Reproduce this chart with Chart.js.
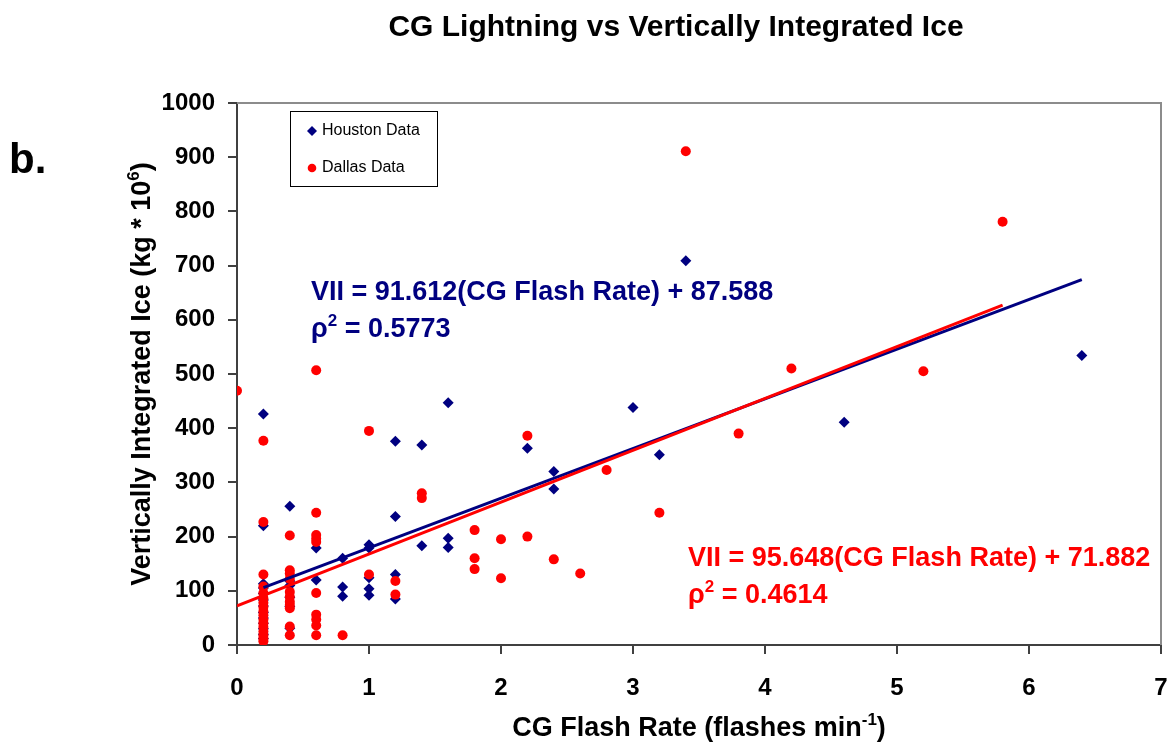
<!DOCTYPE html>
<html><head><meta charset="utf-8">
<script src="https://cdn.jsdelivr.net/npm/chart.js@4.4.1/dist/chart.umd.min.js"></script>
<style>html,body{margin:0;padding:0;background:#fff}#wrap{width:1170px;height:744px;position:relative}</style>
</head><body><div id="wrap"><canvas id="c" width="1170" height="744"></canvas></div>
<script>
// ---- data ----
const houstonX = [0.2,0.2,0.2,0.2,0.2,0.2,0.2,0.2,0.2,0.2,0.2,0.2,0.2,
  0.4,0.4,0.4,0.4,0.4,0.4, 0.6,0.6, 0.8,0.8,0.8, 1.0,1.0,1.0,1.0,1.0,
  1.2,1.2,1.2,1.2, 1.4,1.4, 1.6,1.6,1.6, 2.2, 2.4,2.4, 3.0, 3.2, 3.4, 4.6, 6.4];
const houstonY = [426,220,113,105,95,83,72,60,50,40,30,20,12,
  256,118,110,88,71,31, 179,120, 160,107,90, 185,179,124,104,92,
  376,237,130,85, 369,183, 447,197,180, 363, 320,288, 438, 351, 709, 411, 534];
const dallasX = [0.0,
  0.2,0.2,0.2,0.2,0.2,0.2,0.2,0.2,0.2,0.2,0.2,0.2,0.2,0.2,0.2,0.2,0.2,
  0.4,0.4,0.4,0.4,0.4,0.4,0.4,0.4,0.4,0.4,0.4,
  0.6,0.6,0.6,0.6,0.6,0.6,0.6,0.6,0.6,0.6,
  0.8, 1.0,1.0, 1.2,1.2, 1.4,1.4, 1.8,1.8,1.8, 2.0,2.0, 2.2,2.2, 2.4, 2.6, 2.8,
  3.2, 3.4, 3.8, 4.2, 5.2, 5.8];
const dallasY = [469,
  377,227,130,108,96,86,78,70,62,55,47,40,33,25,18,12,7,
  202,138,132,122,98,89,80,74,68,34,18,
  507,244,203,196,190,96,56,47,36,18,
  18, 395,130, 118,93, 280,271, 212,160,140, 195,123, 386,200, 158, 132, 323,
  244, 911, 390, 510, 505, 781];
const houstonTrendX = [0.2, 6.4];
const houstonTrendY = [106, 674];
const dallasTrendX = [0.0, 5.8];
const dallasTrendY = [72, 627];
const xTicks = [0,1,2,3,4,5,6,7];
const yTicks = [0,100,200,300,400,500,600,700,800,900,1000];
const titleText = 'CG Lightning vs Vertically Integrated Ice';
const seriesNames = ['Houston Data','Dallas Data'];
const houstonEq = ['VII = 91.612(CG Flash Rate) + 87.588', '0.5773'];
const dallasEq = ['VII = 95.648(CG Flash Rate) + 71.882', '0.4614'];

const NAVY = '#000080', RED = '#FF0000';
const FF = '"Liberation Sans", Arial, Helvetica, sans-serif';
const pts = (xs, ys) => xs.map((x, i) => ({x, y: ys[i]}));

function supText(ctx, parts, x, y, size, align) {
  const widths = parts.map(p => { ctx.font = 'bold ' + (p[1] ? Math.round(size*0.62) : size) + 'px ' + FF; return ctx.measureText(p[0]).width; });
  const total = widths.reduce((a,b)=>a+b,0);
  let cx = align === 'center' ? x - total/2 : x;
  parts.forEach((p, i) => {
    ctx.font = 'bold ' + (p[1] ? Math.round(size*0.62) : size) + 'px ' + FF;
    ctx.fillText(p[0], cx, p[1] ? y - size*0.42 : y);
    cx += widths[i];
  });
}

const decor = {
  id: 'decor',
  beforeDraw(chart) {
    const {ctx} = chart;
    ctx.save(); ctx.fillStyle = '#fff'; ctx.fillRect(0,0,chart.width,chart.height); ctx.restore();
  },
  afterDatasetsDraw(chart) {
    const {ctx, chartArea: a} = chart;
    ctx.save();
    ctx.strokeStyle = '#8c8c8c'; ctx.lineWidth = 2;
    ctx.beginPath(); ctx.moveTo(a.left, a.top); ctx.lineTo(a.right, a.top); ctx.lineTo(a.right, a.bottom); ctx.stroke();
    ctx.restore();
  },
  afterDraw(chart) {
    const {ctx, chartArea: a} = chart;
    ctx.save();
    ctx.textBaseline = 'alphabetic';
    ctx.fillStyle = '#000';
    // title
    ctx.font = 'bold 30px ' + FF; ctx.textAlign = 'center';
    ctx.fillText(titleText, 676, 36);
    // panel letter
    ctx.font = 'bold 42px ' + FF; ctx.textAlign = 'left';
    ctx.fillText('b.', 9, 173);
    // x axis title
    supText(ctx, [['CG Flash Rate (flashes min', false], ['-1', true], [')', false]], (a.left + a.right)/2, 736, 27, 'center');
    // y axis title
    ctx.save();
    ctx.translate(150, (a.top + a.bottom)/2);
    ctx.rotate(-Math.PI/2);
    supText(ctx, [['Vertically Integrated Ice (kg * 10', false], ['6', true], [')', false]], 0, 0, 27, 'center');
    ctx.restore();
    // equations
    ctx.fillStyle = NAVY;
    ctx.font = 'bold 27px ' + FF;
    ctx.fillText(houstonEq[0], 311, 300);
    supText(ctx, [['\u03C1', false], ['2', true], [' = ' + houstonEq[1], false]], 311, 337, 27, 'left');
    ctx.fillStyle = RED;
    ctx.font = 'bold 27px ' + FF;
    ctx.fillText(dallasEq[0], 688, 566);
    supText(ctx, [['\u03C1', false], ['2', true], [' = ' + dallasEq[1], false]], 688, 603, 27, 'left');
    // legend
    ctx.fillStyle = '#fff'; ctx.fillRect(290.5, 111.5, 147, 75);
    ctx.strokeStyle = '#000'; ctx.lineWidth = 1; ctx.strokeRect(290.5, 111.5, 147, 75);
    ctx.fillStyle = NAVY;
    ctx.beginPath(); ctx.moveTo(312, 126); ctx.lineTo(317, 131); ctx.lineTo(312, 136); ctx.lineTo(307, 131); ctx.closePath(); ctx.fill();
    ctx.fillStyle = RED;
    ctx.beginPath(); ctx.arc(312, 168, 4.3, 0, Math.PI*2); ctx.fill();
    ctx.fillStyle = '#000'; ctx.font = '16px ' + FF; ctx.textBaseline = 'middle';
    ctx.fillText(seriesNames[0], 322, 131);
    ctx.fillText(seriesNames[1], 322, 168);
    ctx.restore();
  }
};

new Chart(document.getElementById('c'), {
  type: 'scatter',
  data: {
    datasets: [
      {label: 'Dallas trend', data: pts(dallasTrendX, dallasTrendY), showLine: true, borderColor: RED, borderWidth: 3, pointRadius: 0, order: 0},
      {label: 'Houston trend', data: pts(houstonTrendX, houstonTrendY), showLine: true, borderColor: NAVY, borderWidth: 3, pointRadius: 0, order: 1},
      {label: seriesNames[1], data: pts(dallasX, dallasY), pointStyle: 'circle', pointRadius: 5, backgroundColor: RED, borderColor: RED, borderWidth: 0, order: 2},
      {label: seriesNames[0], data: pts(houstonX, houstonY), pointStyle: 'rectRot', pointRadius: 5.5, backgroundColor: NAVY, borderColor: NAVY, borderWidth: 0, order: 3}
    ]
  },
  options: {
    responsive: false, animation: false, devicePixelRatio: 1,
    layout: {padding: {left: 0, top: 103, right: 9, bottom: 0}},
    plugins: {legend: {display: false}, tooltip: {enabled: false}, title: {display: false}},
    scales: {
      x: {
        type: 'linear', min: 0, max: 7,
        afterFit: s => { s.height = 99; s.paddingLeft = 0; s.paddingRight = 0; },
        afterBuildTicks: s => { s.ticks = xTicks.map(v => ({value: v})); },
        ticks: {font: {family: FF, size: 24, weight: 'bold'}, color: '#000', padding: 20, callback: v => String(v)},
        grid: {drawOnChartArea: false, drawTicks: true, tickLength: 9, color: '#404040', lineWidth: 2},
        border: {color: '#404040', width: 2}
      },
      y: {
        type: 'linear', min: 0, max: 1000,
        afterFit: s => { s.width = 237; s.paddingTop = 0; s.paddingBottom = 0; },
        afterBuildTicks: s => { s.ticks = yTicks.map(v => ({value: v})); },
        ticks: {font: {family: FF, size: 24, weight: 'bold'}, color: '#000', padding: 13, callback: v => String(v)},
        grid: {drawOnChartArea: false, drawTicks: true, tickLength: 9, color: '#404040', lineWidth: 2},
        border: {color: '#404040', width: 2}
      }
    }
  },
  plugins: [decor]
});
</script>
</body></html>
